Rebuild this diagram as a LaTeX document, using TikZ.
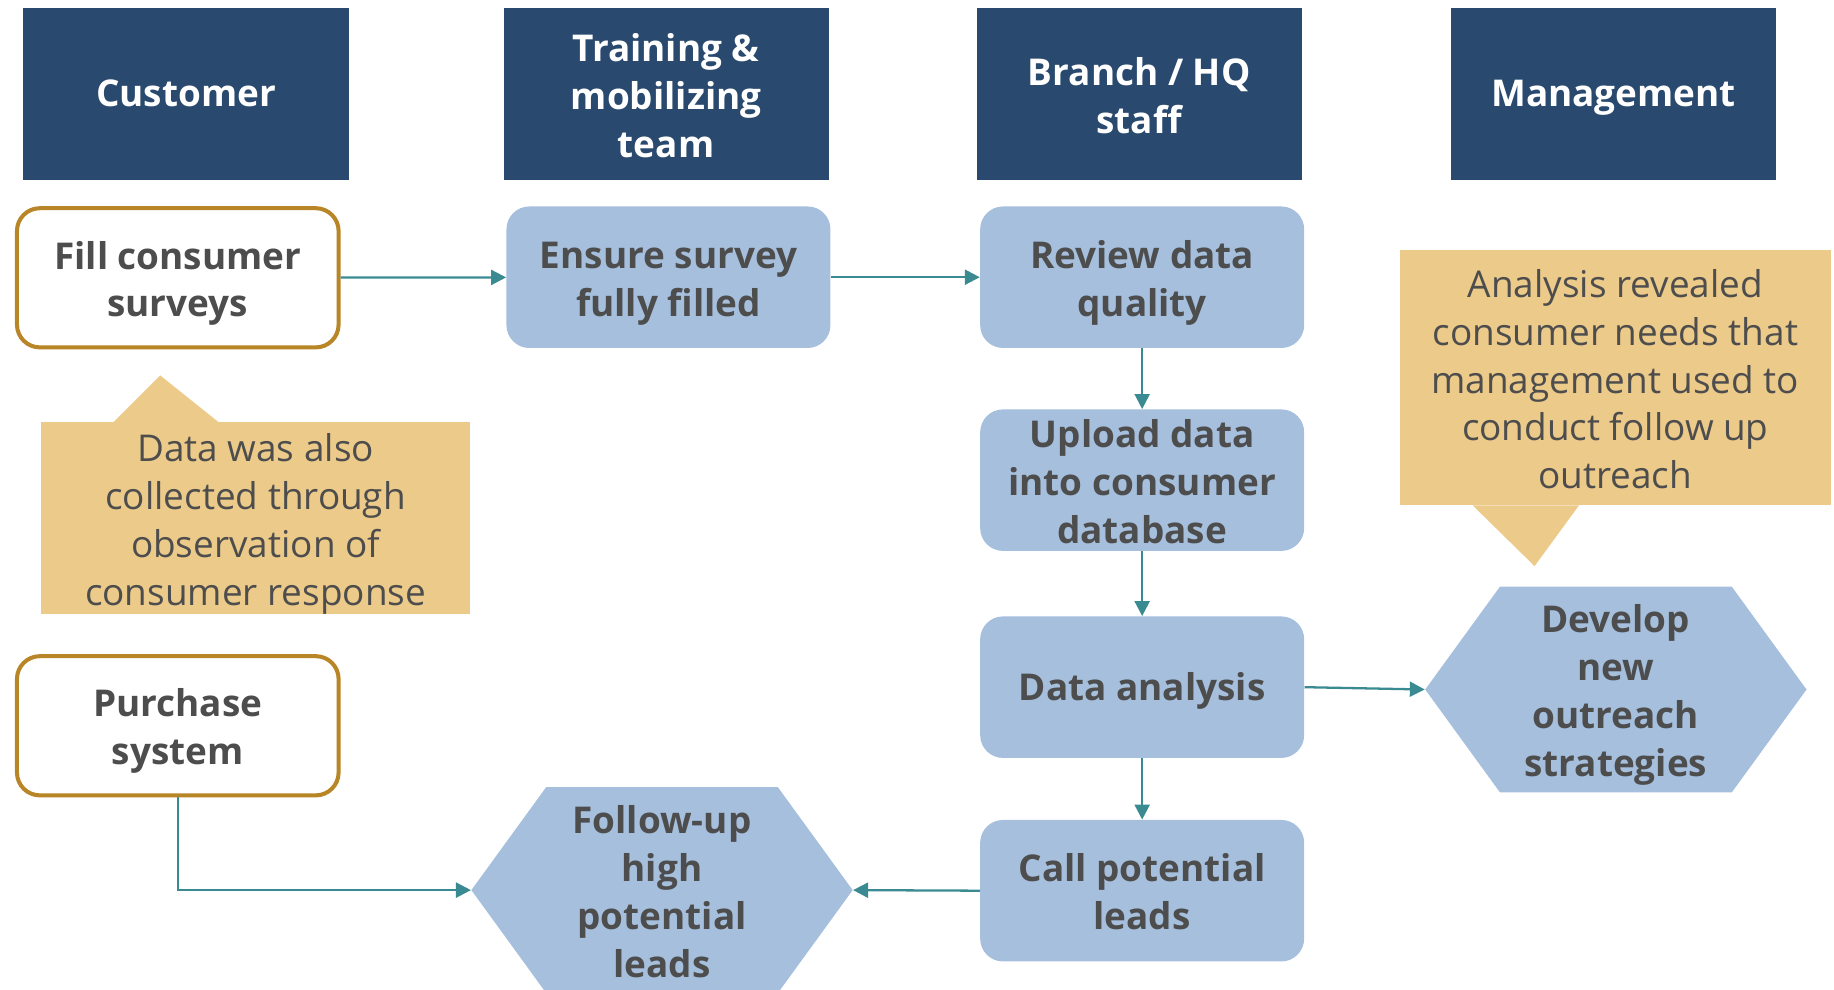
\documentclass[tikz,border=0pt]{standalone}
\usepackage{fontspec}
\setmainfont{Open Sans}
\usetikzlibrary{arrows.meta,shapes.symbols}

\definecolor{navy}{RGB}{41,73,110}
\definecolor{boxblue}{RGB}{165,191,221}
\definecolor{gold}{RGB}{184,134,38}
\definecolor{sand}{RGB}{236,202,138}
\definecolor{inkgray}{RGB}{77,77,77}
\definecolor{teal}{RGB}{58,138,145}

\newcommand\pxu{0.6656pt}
\newcommand\bigfont{\fontsize{21}{27.3}\selectfont}
% same line box for every first and last line
\newcommand\linestrut{\rule[-6pt]{0pt}{26.6pt}}
\newcommand\toprow{\rule{0pt}{23.3pt}}

\begin{document}
\begin{tikzpicture}[x=0.6656pt, y=-0.6656pt,
  every node/.style={align=center, inner xsep=0pt, inner ysep=-4pt, text=inkgray, font=\bigfont,
    execute at begin node=\linestrut, execute at end node=\linestrut},
  lane/.style={fill=navy, text=white, font=\bigfont\bfseries,
    minimum width=278*\pxu, minimum height=147*\pxu},
  actor/.style={draw=gold, line width=2.3pt, fill=white, rounded corners=13pt,
    font=\bigfont\bfseries, minimum width=275*\pxu, minimum height=119*\pxu},
  task/.style={fill=boxblue, rounded corners=13pt, font=\bigfont\bfseries,
    minimum width=277*\pxu, minimum height=121*\pxu},
  hexbox/.style={shape=signal, signal to=east and west, signal pointer angle=108,
    fill=boxblue, font=\bigfont\bfseries,
    minimum width=326*\pxu, minimum height=176*\pxu},
  note/.style={fill=sand},
  flow/.style={draw=teal, line width=1.3pt, -{Triangle[length=8.5pt,width=8.5pt]}}
]
\useasboundingbox (0,0) rectangle (1568,846);

% lane headers
\node[lane] (hcust) at (159,80.5) {Customer};
\node[lane] (htrain) at (569.5,80.5) {\toprow Training \&\\mobilizing\\team};
\node[lane] (hbranch) at (974,80.5) {\toprow Branch / HQ\\staff};
\node[lane] (hmgmt) at (1379.5,80.5) {Management};

% notes
\fill[sand] (97,361) -- (137,321) -- (187,361) -- cycle;
\node[note, minimum width=367*\pxu, minimum height=164*\pxu] (obsnote) at (218.5,443)
  {\toprow Data was also\\collected through\\observation of\\consumer response};
\fill[sand] (1259,432) -- (1312,484) -- (1350,432) -- cycle;
\node[note, minimum width=368*\pxu, minimum height=218*\pxu] (mgmtnote) at (1381,323)
  {\toprow Analysis revealed\\consumer needs that\\management used to\\conduct follow up\\outreach};

% steps
\node[actor] (fill) at (152,237.5) {\toprow Fill consumer\\surveys};
\node[task] (ensure) at (571.5,237) {\toprow Ensure survey\\fully filled};
\node[task] (review) at (976.5,237) {\toprow Review data\\quality};
\node[task] (upload) at (976.5,410.5) {\toprow Upload data\\into consumer\\database};
\node[task] (analysis) at (976.5,587.5) {Data analysis};
\node[task] (call) at (976.5,761.5) {\toprow Call potential\\leads};
\node[actor] (purchase) at (152,620.5) {\toprow Purchase\\system};
\node[hexbox] (followup) at (566,761) {\toprow Follow-up\\high\\potential\\leads};
\node[hexbox] (develop) at (1381.5,589.5) {\toprow Develop\\new\\outreach\\strategies};

% connectors
\draw[flow] (fill) -- (ensure);
\draw[flow] (ensure) -- (review);
\draw[flow] (review) -- (upload);
\draw[flow] (upload) -- (analysis);
\draw[flow] (analysis) -- (call);
\draw[flow] (analysis.east) -- (develop.west);
\draw[flow] (call.west) -- (followup.east);
\draw[flow] (purchase.south) |- (followup.west);
\end{tikzpicture}
\end{document}
